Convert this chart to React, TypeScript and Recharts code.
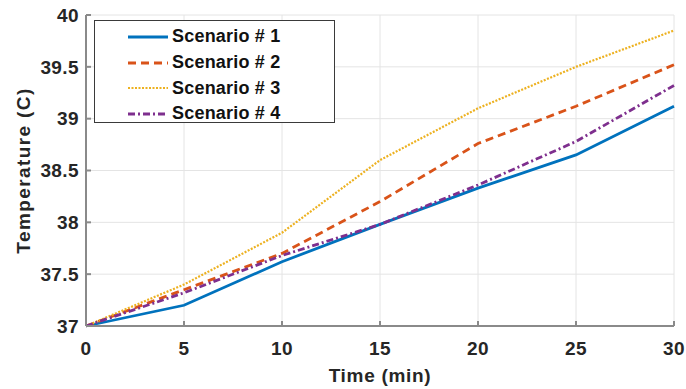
import {
  LineChart,
  Line,
  XAxis,
  YAxis,
  CartesianGrid,
  Legend,
} from "recharts"

const times = [0, 5, 10, 15, 20, 25, 30]
const scenario1 = [37, 37.2, 37.62, 37.98, 38.33, 38.65, 39.12]
const scenario2 = [37, 37.35, 37.7, 38.2, 38.76, 39.12, 39.52]
const scenario3 = [37, 37.4, 37.9, 38.6, 39.1, 39.5, 39.85]
const scenario4 = [37, 37.32, 37.68, 37.98, 38.36, 38.78, 39.32]

const xTicks = [0, 5, 10, 15, 20, 25, 30]
const yTicks = [37, 37.5, 38, 38.5, 39, 39.5, 40]

const data = times.map((t, i) => ({
  time: t,
  s1: scenario1[i],
  s2: scenario2[i],
  s3: scenario3[i],
  s4: scenario4[i],
}))

const FONT = '"Liberation Sans", Arial, sans-serif'
const TEXT = "#262626"
const BOX = "#8a8a8a"

const tickStyle = {
  fill: TEXT,
  fontSize: 19,
  fontWeight: "bold",
  fontFamily: FONT,
  letterSpacing: 0.4,
}

function LegendBox({ payload }: any) {
  return (
    <div
      style={{
        width: 241,
        height: 103,
        border: "1.5px solid #3a3a3a",
        background: "#fff",
        boxSizing: "border-box",
        paddingTop: 3,
        fontFamily: FONT,
        fontWeight: "bold",
        fontSize: 18,
        color: "#111",
      }}
    >
      {(payload || []).map((p: any) => (
        <div
          key={p.value}
          style={{ display: "flex", alignItems: "center", height: 25.7 }}
        >
          <svg width={40} height={10} style={{ marginLeft: 33, marginRight: 4 }}>
            <line
              x1={0}
              y1={5}
              x2={40}
              y2={5}
              stroke={p.color}
              strokeWidth={p.payload?.strokeWidth ?? 2.5}
              strokeDasharray={p.payload?.strokeDasharray}
            />
          </svg>
          <span style={{ letterSpacing: 0.2 }}>{p.value}</span>
        </div>
      ))}
    </div>
  )
}

export default function App() {
  return (
    <div style={{ position: "absolute", left: 0, top: 0, background: "#fff" }}>
      <LineChart
        width={686}
        height={389}
        data={data}
        margin={{ top: 15, right: 12, bottom: 0, left: 0 }}
      >
        <CartesianGrid stroke="#e4e4e4" strokeWidth={1} />
        <XAxis
          dataKey="time"
          type="number"
          domain={[0, 30]}
          ticks={xTicks}
          height={63}
          stroke={BOX}
          strokeWidth={2}
          tickSize={-5}
          tickMargin={21}
          tick={tickStyle}
          label={{
            value: "Time (min)",
            position: "insideBottom",
            offset: 7,
            fill: TEXT,
            fontSize: 19,
            fontWeight: "bold",
            fontFamily: FONT,
            style: { letterSpacing: 0.7 },
          }}
        />
        <XAxis
          xAxisId="top"
          dataKey="time"
          type="number"
          orientation="top"
          domain={[0, 30]}
          ticks={xTicks}
          height={0}
          stroke={BOX}
          strokeWidth={2}
          tickSize={-5}
          tick={false}
        />
        <YAxis
          type="number"
          domain={[37, 40]}
          ticks={yTicks}
          width={86}
          stroke={BOX}
          strokeWidth={2}
          tickSize={-5}
          tickMargin={12}
          tick={tickStyle}
          label={{
            value: "Temperature (C)",
            angle: -90,
            position: "insideLeft",
            offset: 23,
            fill: TEXT,
            fontSize: 19,
            fontWeight: "bold",
            fontFamily: FONT,
            style: { textAnchor: "middle", letterSpacing: 1.4 },
          }}
        />
        <YAxis
          yAxisId="right"
          type="number"
          orientation="right"
          domain={[37, 40]}
          ticks={yTicks}
          width={0}
          stroke={BOX}
          strokeWidth={2}
          tickSize={-5}
          tick={false}
        />
        <Legend
          layout="vertical"
          align="center"
          verticalAlign="middle"
          content={<LegendBox />}
          wrapperStyle={{ left: 94, top: 20, width: 241, height: 103 }}
        />
        <Line
          name="Scenario # 1"
          dataKey="s1"
          stroke="#0072BD"
          strokeWidth={2.8}
          dot={false}
          isAnimationActive={false}
        />
        <Line
          name="Scenario # 2"
          dataKey="s2"
          stroke="#D95319"
          strokeWidth={2.8}
          strokeDasharray="8 5"
          dot={false}
          isAnimationActive={false}
        />
        <Line
          name="Scenario # 3"
          dataKey="s3"
          stroke="#EDB120"
          strokeWidth={2.2}
          strokeDasharray="2 1.5"
          dot={false}
          isAnimationActive={false}
        />
        <Line
          name="Scenario # 4"
          dataKey="s4"
          stroke="#7E2F8E"
          strokeWidth={2.8}
          strokeDasharray="7 3 2 3"
          dot={false}
          isAnimationActive={false}
        />
      </LineChart>
    </div>
  )
}
